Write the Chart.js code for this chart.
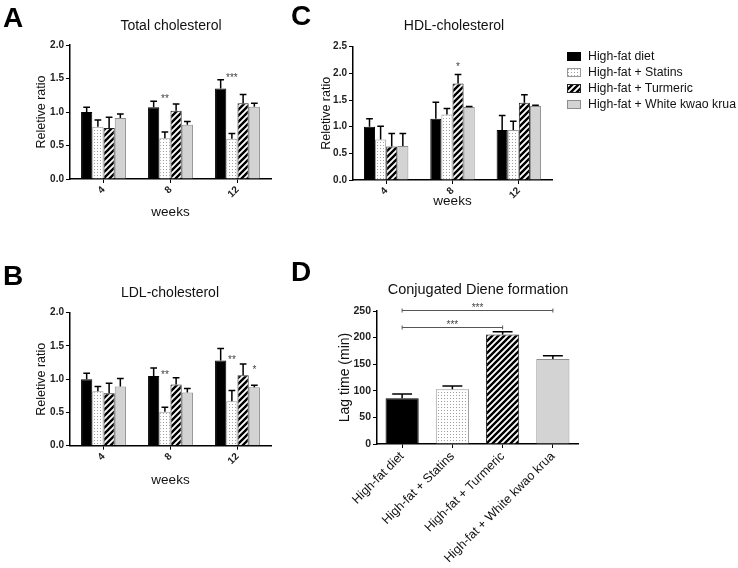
<!DOCTYPE html>
<html>
<head>
<meta charset="utf-8">
<script src="https://cdn.jsdelivr.net/npm/chart.js@4.4.1/dist/chart.umd.min.js"></script>
<style>
  body { margin: 0; background: #fff; font-family: "Liberation Sans", Arial, sans-serif; }
  #page { position: relative; width: 738px; height: 568px; overflow: hidden; }
  canvas.panel { position: absolute; }
  .letter { position: absolute; font-weight: bold; font-size: 28px; line-height: 1; color: #000; }
  .title { position: absolute; font-size: 14px; line-height: 1; color: #111; white-space: nowrap; transform: translateX(-50%); }
  #legend { position: absolute; left: 567px; top: 48px; font-size: 12.3px; color: #111; }
  #legend div { height: 16px; display: flex; align-items: center; white-space: nowrap; }
  #legend canvas { margin-right: 7px; }
</style>
</head>
<body>
<div id="page">
  <canvas class="panel" id="chartA" width="285" height="230" style="left:0;top:0"></canvas>
  <canvas class="panel" id="chartB" width="285" height="245" style="left:0;top:250px"></canvas>
  <canvas class="panel" id="chartC" width="285" height="230" style="left:280px;top:0"></canvas>
  <canvas class="panel" id="chartD" width="310" height="306" style="left:290px;top:262px"></canvas>

  <div class="letter" style="left:3px;top:4px">A</div>
  <div class="letter" style="left:3px;top:262px">B</div>
  <div class="letter" style="left:291px;top:2px">C</div>
  <div class="letter" style="left:291px;top:258px">D</div>

  <div class="title" style="left:171px;top:18px">Total cholesterol</div>
  <div class="title" style="left:170px;top:285px">LDL-cholesterol</div>
  <div class="title" style="left:454px;top:18px">HDL-cholesterol</div>
  <div class="title" style="left:478px;top:282px;font-size:14.5px">Conjugated Diene formation</div>

  <div id="legend"></div>
</div>
<script>
const weeks = ['4', '8', '12'];
const groups = ['High-fat diet', 'High-fat + Statins', 'High-fat + Turmeric', 'High-fat + White kwao krua'];

// relative ratio per group (rows) and week (columns), error = upper SEM bar
const totalMean = [
  [1.00, 1.07, 1.35],
  [0.78, 0.61, 0.60],
  [0.76, 1.02, 1.13],
  [0.91, 0.81, 1.08]
];
const totalErr = [
  [0.07, 0.09, 0.13],
  [0.10, 0.09, 0.08],
  [0.16, 0.10, 0.13],
  [0.06, 0.05, 0.05]
];
const totalStars = [
  { week: 1, group: 1, value: 1.23, text: '**' },
  { week: 2, group: 1, value: 1.55, text: '***' }
];

const ldlMean = [
  [1.00, 1.05, 1.28],
  [0.82, 0.51, 0.67],
  [0.79, 0.92, 1.06],
  [0.89, 0.80, 0.88]
];
const ldlErr = [
  [0.09, 0.12, 0.18],
  [0.07, 0.07, 0.16],
  [0.15, 0.10, 0.17],
  [0.12, 0.06, 0.03]
];
const ldlStars = [
  { week: 1, group: 1, value: 1.10, text: '**' },
  { week: 2, group: 1, value: 1.32, text: '**' },
  { week: 2, group: 3, value: 1.18, text: '*' }
];

const hdlMean = [
  [1.00, 1.15, 0.94],
  [0.76, 1.23, 0.94],
  [0.63, 1.81, 1.45],
  [0.64, 1.37, 1.39]
];
const hdlErr = [
  [0.15, 0.31, 0.27],
  [0.25, 0.11, 0.16],
  [0.24, 0.17, 0.15],
  [0.23, 0.01, 0.01]
];
const hdlStars = [
  { week: 1, group: 2, value: 2.16, text: '*' }
];

// conjugated diene lag time (min)
const lagMean = [86, 103, 206, 160];
const lagErr = [8, 6, 5, 6];
const lagBrackets = [
  { from: 0, to: 3, value: 252, text: '***' },
  { from: 0, to: 2, value: 220, text: '***' }
];

Chart.defaults.font.family = '"Liberation Sans", Arial, sans-serif';
Chart.defaults.color = '#111';

function tile(w, h, draw) {
  const c = document.createElement('canvas');
  c.width = w; c.height = h;
  const g = c.getContext('2d');
  draw(g);
  return g.createPattern(c, 'repeat');
}
const dots = tile(3, 3, g => {
  g.fillStyle = '#fff'; g.fillRect(0, 0, 3, 3);
  g.fillStyle = '#a0a0a0'; g.fillRect(1, 1, 1, 1);
});
const hatch = tile(6, 6, g => {
  g.fillStyle = '#fff'; g.fillRect(0, 0, 6, 6);
  g.strokeStyle = '#000'; g.lineWidth = 2.4;
  g.beginPath();
  g.moveTo(-1, 7); g.lineTo(7, -1);
  g.moveTo(-1, 1); g.lineTo(1, -1);
  g.moveTo(5, 7); g.lineTo(7, 5);
  g.stroke();
});
const fills = ['#000', dots, hatch, '#d3d3d3'];
const borders = ['#000', '#999', '#222', '#8c8c8c'];

// error bars, stars and brackets
function marks(stars, brackets) {
  return {
    id: 'marks',
    afterDatasetsDraw(chart) {
      const ctx = chart.ctx;
      const y = chart.scales.y;
      ctx.save();
      ctx.strokeStyle = '#000';
      ctx.lineWidth = 1.5;
      chart.data.datasets.forEach((ds, i) => {
        chart.getDatasetMeta(i).data.forEach((bar, j) => {
          const top = y.getPixelForValue(ds.data[j] + ds.errors[j]);
          const half = bar.width * 0.3;
          ctx.beginPath();
          ctx.moveTo(bar.x, bar.y); ctx.lineTo(bar.x, top);
          ctx.moveTo(bar.x - half, top); ctx.lineTo(bar.x + half, top);
          ctx.stroke();
        });
      });
      ctx.fillStyle = '#444';
      ctx.textAlign = 'center';
      ctx.font = '10px "Liberation Sans", Arial, sans-serif';
      (stars || []).forEach(s => {
        const bar = chart.getDatasetMeta(s.group).data[s.week];
        ctx.fillText(s.text, bar.x, y.getPixelForValue(s.value) + 5.5);
      });
      ctx.strokeStyle = '#555';
      ctx.lineWidth = 1;
      (brackets || []).forEach(b => {
        const bars = chart.getDatasetMeta(0).data;
        const x0 = bars[b.from].x, x1 = bars[b.to].x;
        const py = Math.round(y.getPixelForValue(b.value)) + 0.5;
        ctx.beginPath();
        ctx.moveTo(x0, py); ctx.lineTo(x1, py);
        ctx.moveTo(x0, py - 2); ctx.lineTo(x0, py + 2);
        ctx.moveTo(x1, py - 2); ctx.lineTo(x1, py + 2);
        ctx.stroke();
        ctx.fillText(b.text, (x0 + x1) / 2, py + 0.5);
      });
      ctx.restore();
    }
  };
}

function weeklyChart(id, means, errs, stars, yMax, box) {
  return new Chart(document.getElementById(id), {
    type: 'bar',
    data: {
      labels: weeks,
      datasets: groups.map((g, i) => ({
        label: g,
        data: means[i],
        errors: errs[i],
        backgroundColor: fills[i],
        borderColor: borders[i],
        borderWidth: 1,
        barPercentage: 1,
        categoryPercentage: 0.67
      }))
    },
    options: {
      responsive: false,
      animation: false,
      layout: { padding: box.pad },
      plugins: { legend: { display: false }, tooltip: { enabled: false } },
      scales: {
        x: {
          grid: { offset: false, drawOnChartArea: false, color: '#000', tickLength: 4 },
          border: { color: '#000', width: 1.5 },
          ticks: { minRotation: 45, maxRotation: 45, padding: 1, color: '#222', font: { size: 10, weight: 'bold' } },
          title: { display: true, text: 'weeks', color: '#111', font: { size: 13.5 }, padding: { top: 0, bottom: box.xTitle } },
          afterFit: s => { s.height = box.xh; }
        },
        y: {
          min: 0,
          max: yMax,
          grid: { drawOnChartArea: false, color: '#000', tickLength: 4 },
          border: { color: '#000', width: 1.5 },
          ticks: { stepSize: 0.5, padding: 2, color: '#222', font: { size: 10, weight: 'bold' }, callback: v => v.toFixed(1) },
          title: { display: true, text: 'Reletive ratio', color: '#111', font: { size: 12.5 }, padding: { top: box.yTitle, bottom: 0 } },
          afterFit: s => { s.width = box.yw; }
        }
      }
    },
    plugins: [marks(stars)]
  });
}

weeklyChart('chartA', totalMean, totalErr, totalStars, 2, {
  pad: { top: 45, right: 14, bottom: 0, left: 0 }, yw: 70, xh: 51, xTitle: 9.9, yTitle: 34.5
});
weeklyChart('chartB', ldlMean, ldlErr, ldlStars, 2, {
  pad: { top: 62.7, right: 14, bottom: 0, left: 0 }, yw: 70, xh: 49.3, xTitle: 6.9, yTitle: 34.5
});
weeklyChart('chartC', hdlMean, hdlErr, hdlStars, 2.5, {
  pad: { top: 46.7, right: 13, bottom: 0, left: 0 }, yw: 73, xh: 50, xTitle: 20.9, yTitle: 39.5
});

new Chart(document.getElementById('chartD'), {
  type: 'bar',
  data: {
    labels: groups,
    datasets: [{
      data: lagMean,
      errors: lagErr,
      backgroundColor: fills,
      borderColor: borders,
      borderWidth: 1,
      barPercentage: 0.66,
      categoryPercentage: 1
    }]
  },
  options: {
    responsive: false,
    animation: false,
    layout: { padding: { top: 49, right: 22, bottom: 0, left: 0 } },
    plugins: { legend: { display: false }, tooltip: { enabled: false } },
    scales: {
      x: {
        grid: { offset: false, drawOnChartArea: false, color: '#000', tickLength: 4 },
        border: { color: '#000', width: 1.5 },
        ticks: { minRotation: 45, maxRotation: 45, padding: 1, color: '#111', font: { size: 12.5 } },
        afterFit: s => { s.height = 124; }
      },
      y: {
        min: 0,
        max: 250,
        grid: { drawOnChartArea: false, color: '#000', tickLength: 4 },
        border: { color: '#000', width: 1.5 },
        ticks: { stepSize: 50, padding: 2, color: '#222', font: { size: 10.5, weight: 'bold' } },
        title: { display: true, text: 'Lag time (min)', color: '#111', font: { size: 14 }, padding: { top: 46.6, bottom: 0 } },
        afterFit: s => { s.width = 87; }
      }
    }
  },
  plugins: [marks(null, lagBrackets)]
});

// legend
const legend = document.getElementById('legend');
groups.forEach((g, i) => {
  const row = document.createElement('div');
  const sw = document.createElement('canvas');
  sw.width = 14; sw.height = 9;
  const c = sw.getContext('2d');
  c.fillStyle = fills[i];
  c.fillRect(0, 0, 14, 9);
  c.strokeStyle = borders[i];
  c.strokeRect(0.5, 0.5, 13, 8);
  const label = document.createElement('span');
  label.textContent = g;
  row.appendChild(sw);
  row.appendChild(label);
  legend.appendChild(row);
});
</script>
</body>
</html>
